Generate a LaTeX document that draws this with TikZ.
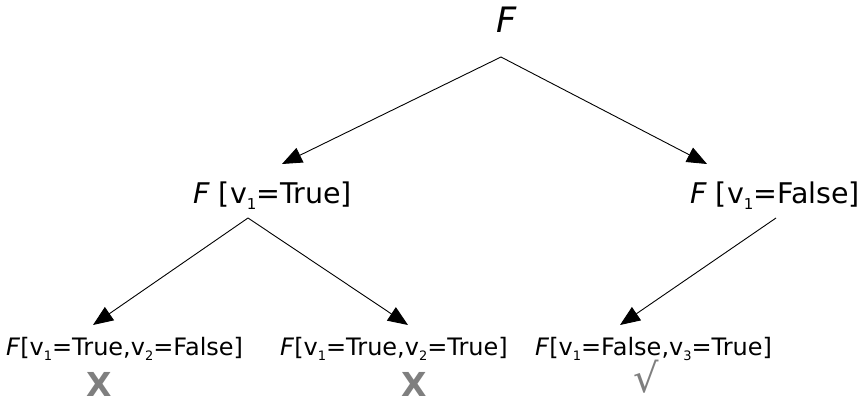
\documentclass[tikz,border=0pt]{standalone}
\usepackage{fontspec}
\setmainfont{DejaVu Sans}
\usetikzlibrary{arrows.meta}
\newcommand\subM[1]{\raisebox{-6.5pt}{\fontsize{15}{15}\selectfont #1}}
\newcommand\subB[1]{\raisebox{-5.5pt}{\fontsize{13}{13}\selectfont #1}}
\definecolor{markgray}{HTML}{7F7F7F}
\tikzset{
  lbl/.style={inner sep=0pt, anchor=base west, text=black},
  toplbl/.style={inner sep=0pt, anchor=base, font=\fontsize{35}{35}\selectfont},
  midlbl/.style={lbl, font=\fontsize{28.5}{28.5}\selectfont},
  botlbl/.style={lbl, font=\fontsize{24}{24}\selectfont},
  verdict/.style={inner sep=0pt, anchor=base, text=markgray, text depth=0pt},
  edge/.style={line width=0.9pt, -{Triangle[length=20pt,width=16pt]}}
}
\begin{document}
\begin{tikzpicture}[x=1pt,y=-1pt]
\useasboundingbox (0,0) rectangle (860,404);
\node[toplbl] (F) at (507,33) {\textit{F}};
\node[midlbl] (L) at (193,203) {\textit{F} [v\subM{1}=True]};
\node[midlbl] (R) at (690,203) {\textit{F} [v\subM{1}=False]};
\node[botlbl] (LL) at (6,355) {\textit{F}[v\subB{1}=True,v\subB{2}=False]};
\node[botlbl] (LR) at (280,355) {\textit{F}[v\subB{1}=True,v\subB{2}=True]};
\node[botlbl] (RL) at (535,355) {\textit{F}[v\subB{1}=False,v\subB{3}=True]};
\node[verdict, font=\bfseries\fontsize{33}{33}\selectfont] (x1) at (99,396) {X};
\node[verdict, font=\bfseries\fontsize{33}{33}\selectfont] (x2) at (414,396) {X};
\node[verdict, font=\fontsize{40}{40}\selectfont] (ok) at (646,392) {√};
\coordinate (Fb) at (501,57);
\coordinate (Lt) at (282,164);
\coordinate (Rt) at (707,164);
\coordinate (Lb) at (248,218);
\coordinate (Rb) at (776,218);
\coordinate (LLt) at (93,325);
\coordinate (LRt) at (408,325);
\coordinate (RLt) at (620,325);
\draw[edge] (Fb) -- (Lt);
\draw[edge] (Fb) -- (Rt);
\draw[edge] (Lb) -- (LLt);
\draw[edge] (Lb) -- (LRt);
\draw[edge] (Rb) -- (RLt);
\end{tikzpicture}
\end{document}
